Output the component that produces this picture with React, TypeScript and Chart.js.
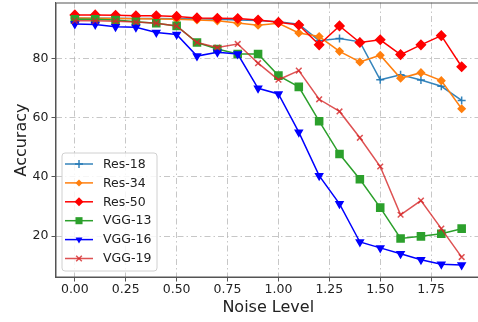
import React, { useEffect, useRef } from "react";
import { Chart, registerables } from "chart.js";

Chart.register(...registerables);

const noise = [0, 0.1, 0.2, 0.3, 0.4, 0.5, 0.6, 0.7, 0.8, 0.9, 1.0, 1.1, 1.2, 1.3, 1.4, 1.5, 1.6, 1.7, 1.8, 1.9];
const res18 = [93.6, 93.6, 93.6, 93.5, 93.5, 93.4, 93.4, 93.2, 93.0, 92.8, 92.4, 91.6, 86.0, 86.7, 85.6, 72.8, 74.5, 72.7, 70.6, 65.8];
const res34 = [93.7, 93.6, 93.5, 93.4, 93.3, 93.2, 93.0, 92.7, 92.0, 91.2, 91.9, 88.6, 87.4, 82.4, 78.8, 81.1, 73.3, 75.2, 72.5, 63.0];
const res50 = [94.7, 94.7, 94.6, 94.4, 94.4, 94.2, 93.7, 93.6, 93.5, 93.0, 92.2, 91.3, 84.6, 91.0, 85.4, 86.3, 81.3, 84.6, 87.7, 77.2];
const vgg13 = [93.2, 93.2, 93.0, 92.4, 91.9, 91.0, 85.4, 83.2, 81.5, 81.5, 74.2, 70.4, 58.8, 47.7, 39.2, 29.6, 19.2, 19.9, 20.8, 22.5];
const vgg16 = [91.6, 91.5, 90.7, 90.5, 88.8, 88.1, 80.8, 82.1, 81.5, 69.9, 68.0, 55.1, 40.4, 30.9, 18.0, 16.0, 14.0, 12.0, 10.5, 10.2];
const vgg19 = [92.7, 92.7, 92.6, 92.3, 91.9, 91.0, 85.4, 83.7, 84.9, 78.4, 72.8, 75.9, 66.2, 62.1, 53.2, 43.5, 27.2, 32.0, 22.5, 12.9];

const seriesNames = ["Res-18", "Res-34", "Res-50", "VGG-13", "VGG-16", "VGG-19"];
const seriesValues = [res18, res34, res50, vgg13, vgg16, vgg19];
const xTicks = [0, 0.25, 0.5, 0.75, 1.0, 1.25, 1.5, 1.75];
const yTicks = [20, 40, 60, 80];

const styles = [
  { color: "rgba(31,119,180,0.9)", point: "cross", radius: 4, rotation: 0 },
  { color: "#ff7f0e", point: "rectRot", radius: 3.5, rotation: 0 },
  { color: "#ff0000", point: "rectRot", radius: 4.5, rotation: 0 },
  { color: "#2ca02c", point: "rect", radius: 5, rotation: 0 },
  { color: "#0000ff", point: "triangle", radius: 4, rotation: 180 },
  { color: "rgba(214,39,40,0.8)", point: "crossRot", radius: 4, rotation: 0 },
];

const FONT = "'DejaVu Sans', sans-serif";

const framePlugin = {
  id: "frame",
  afterDraw(chart: any) {
    const { ctx, chartArea } = chart;
    ctx.save();
    ctx.strokeStyle = "#555";
    ctx.lineWidth = 1;
    ctx.strokeRect(chartArea.left + 0.5, chartArea.top + 0.5, chartArea.right - chartArea.left - 1, chartArea.bottom - chartArea.top - 1);
    ctx.restore();
  },
};

function drawMarker(ctx: CanvasRenderingContext2D, st: any, x: number, y: number) {
  const rad = (st.rotation * Math.PI) / 180;
  const r = st.radius;
  ctx.beginPath();
  ctx.lineWidth = 1.5;
  if (st.point === "cross") {
    ctx.moveTo(x - r, y); ctx.lineTo(x + r, y);
    ctx.moveTo(x, y - r); ctx.lineTo(x, y + r);
    ctx.stroke();
  } else if (st.point === "crossRot") {
    const d = r * Math.SQRT1_2;
    ctx.moveTo(x - d, y - d); ctx.lineTo(x + d, y + d);
    ctx.moveTo(x - d, y + d); ctx.lineTo(x + d, y - d);
    ctx.stroke();
  } else if (st.point === "rectRot") {
    ctx.moveTo(x, y - r); ctx.lineTo(x + r, y); ctx.lineTo(x, y + r); ctx.lineTo(x - r, y);
    ctx.closePath(); ctx.fill();
  } else if (st.point === "rect") {
    const s = r * Math.SQRT1_2;
    ctx.rect(x - s, y - s, 2 * s, 2 * s); ctx.fill();
  } else if (st.point === "triangle") {
    let a = rad;
    ctx.moveTo(x + Math.sin(a) * r, y - Math.cos(a) * r);
    a += (2 * Math.PI) / 3;
    ctx.lineTo(x + Math.sin(a) * r, y - Math.cos(a) * r);
    a += (2 * Math.PI) / 3;
    ctx.lineTo(x + Math.sin(a) * r, y - Math.cos(a) * r);
    ctx.closePath(); ctx.fill();
  }
}

const legendPlugin = {
  id: "customLegend",
  afterDraw(chart: any) {
    const { ctx } = chart;
    const x0 = 62, y0 = 153, w = 95, h = 118;
    ctx.save();
    ctx.beginPath();
    const r = 3;
    ctx.moveTo(x0 + r, y0);
    ctx.arcTo(x0 + w, y0, x0 + w, y0 + h, r);
    ctx.arcTo(x0 + w, y0 + h, x0, y0 + h, r);
    ctx.arcTo(x0, y0 + h, x0, y0, r);
    ctx.arcTo(x0, y0, x0 + w, y0, r);
    ctx.closePath();
    ctx.fillStyle = "rgba(255,255,255,0.85)";
    ctx.fill();
    ctx.strokeStyle = "#d0d0d0";
    ctx.lineWidth = 1;
    ctx.stroke();
    ctx.font = `12.5px ${FONT}`;
    ctx.textBaseline = "middle";
    ctx.textAlign = "left";
    seriesNames.forEach((name, i) => {
      const y = 164 + i * 18.9;
      const st = styles[i];
      ctx.strokeStyle = st.color;
      ctx.lineWidth = 1.5;
      ctx.beginPath();
      ctx.moveTo(65, y);
      ctx.lineTo(93, y);
      ctx.stroke();
      ctx.fillStyle = st.color;
      ctx.strokeStyle = st.color;
      drawMarker(ctx, st, 79, y);
      ctx.fillStyle = "#222";
      ctx.fillText(name, 103, y + 0.5);
    });
    ctx.restore();
  },
};

export default function App() {
  const ref = useRef<HTMLCanvasElement>(null);
  useEffect(() => {
    if (!ref.current) return;
    const gridCommon = {
      color: "rgba(180,180,180,0.75)",
      lineWidth: 1,
      drawTicks: true,
      tickLength: 4,
      tickColor: "#555",
      tickBorderDash: [],
    };
    const chart = new Chart(ref.current, {
      type: "line",
      data: {
        datasets: seriesNames.map((name, i) => ({
          label: name,
          data: noise.map((x, j) => ({ x, y: seriesValues[i][j] })),
          borderColor: styles[i].color,
          backgroundColor: styles[i].color,
          pointBorderColor: styles[i].color,
          pointBackgroundColor: styles[i].color,
          borderWidth: 1.5,
          pointStyle: styles[i].point as any,
          pointRadius: styles[i].radius,
          pointRotation: styles[i].rotation,
          pointBorderWidth: 1.5,
          tension: 0,
          fill: false,
          order: 6 - i,
        })),
      },
      options: {
        animation: false,
        responsive: false,
        maintainAspectRatio: false,
        layout: { autoPadding: false, padding: { top: 2.5, right: 0, left: 0, bottom: 0 } },
        plugins: { legend: { display: false }, tooltip: { enabled: false } },
        scales: {
          x: {
            type: "linear",
            min: -0.095,
            max: 1.995,
            afterBuildTicks: (s: any) => { s.ticks = xTicks.map((v) => ({ value: v })); },
            afterFit: (s: any) => { s.height = 44.5; s.paddingLeft = 0; s.paddingRight = 0; },
            ticks: {
              callback: (v: any) => Number(v).toFixed(2),
              font: { family: FONT, size: 12.5 },
              color: "#222",
              padding: 1,
              maxRotation: 0,
              autoSkip: false,
            },
            grid: gridCommon as any,
            border: { display: true, color: "#555", dash: [6, 3, 1.5, 3] },
            title: {
              display: true,
              text: "Noise Level",
              font: { family: FONT, size: 16 },
              color: "#222",
              padding: { top: 0, bottom: 5 },
            },
          },
          y: {
            type: "linear",
            min: 6.0,
            max: 98.9,
            afterBuildTicks: (s: any) => { s.ticks = yTicks.map((v) => ({ value: v })); },
            afterFit: (s: any) => { s.width = 55.5; s.paddingTop = 0; s.paddingBottom = 0; },
            ticks: {
              callback: (v: any) => String(v),
              font: { family: FONT, size: 12.5 },
              color: "#222",
              padding: 3,
            },
            grid: gridCommon as any,
            border: { display: true, color: "#555", dash: [6, 3, 1.5, 3] },
            title: {
              display: true,
              text: "Accuracy",
              font: { family: FONT, size: 16 },
              color: "#222",
              padding: { top: 12, bottom: 0 },
            },
          },
        },
      },
      plugins: [framePlugin, legendPlugin],
    });
    return () => chart.destroy();
  }, []);
  return (
    <div style={{ position: "fixed", left: 0, top: 0, width: 478, height: 322, overflow: "hidden", background: "#fff" }}>
      <canvas ref={ref} width={481} height={322} style={{ width: 481, height: 322, display: "block" }} />
    </div>
  );
}
